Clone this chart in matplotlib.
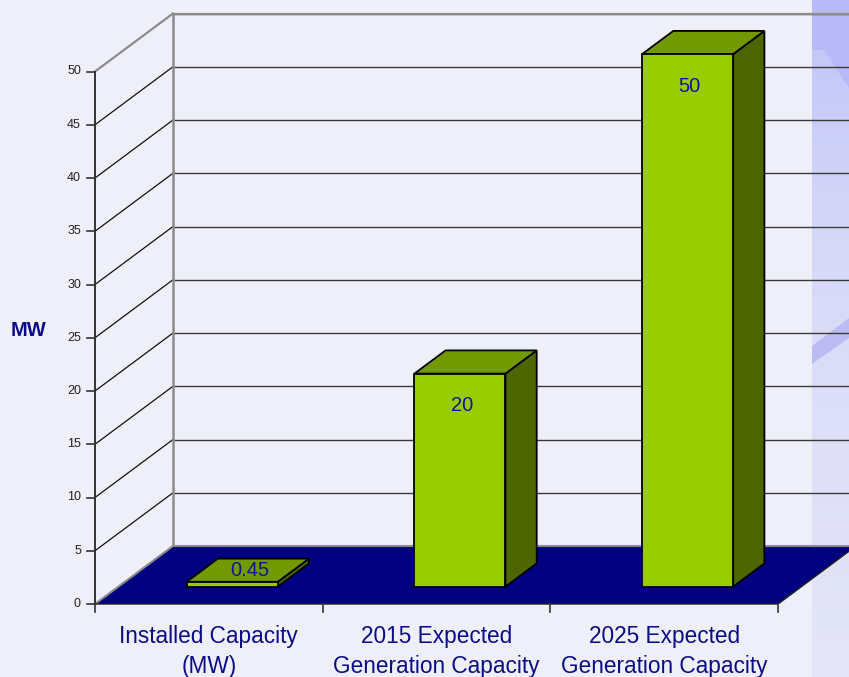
import numpy as np
import matplotlib
matplotlib.use("Agg")
import matplotlib.pyplot as plt
from matplotlib.patches import Polygon
from matplotlib.colors import LinearSegmentedColormap

plt.rcParams['font.family'] = ['Liberation Sans', 'DejaVu Sans']

# ---- data ----
categories = ["Installed Capacity\n(MW)",
              "2015 Expected\nGeneration Capacity",
              "2025 Expected\nGeneration Capacity"]
values = [0.45, 20, 50]
value_labels = ["0.45", "20", "50"]
y_ticks = [0, 5, 10, 15, 20, 25, 30, 35, 40, 45, 50]
y_label = "MW"

# ---- styling ----
BG = '#EFEFFA'
FLOOR = '#000080'
FRONT = '#99CC00'
TOP = '#739900'
SIDE = '#4D6600'
NAVY = '#0C0C88'

# oblique projection: depth offset (in category units, value units) for full depth
PX_PER_CAT = 227.7
PX_PER_VAL = 10.65
ORIGIN_PX = (95, 604)
DX = 78 / PX_PER_CAT
DY = 58 / PX_PER_VAL
YMAX = 50
BAR_W = 0.4
D0, D1 = 0.3, 0.7


def proj(x, v, d):
    return (x + d * DX, v + d * DY)


def px(xp, yp):
    """Figure pixel position -> data coordinates of the plotting axes."""
    return ((xp - ORIGIN_PX[0]) / PX_PER_CAT, (ORIGIN_PX[1] - yp) / PX_PER_VAL)


fig = plt.figure(figsize=(8.49, 6.77), dpi=100)
fig.patch.set_facecolor(BG)
ax = fig.add_axes([0, 0, 1, 1])
ax.set_facecolor(BG)
ax.axis('off')

xlim = (px(0, 0)[0], px(849, 0)[0])
ylim = (px(0, 677)[1], px(0, 0)[1])

# slide background strip on the right
strip_x0 = px(812, 0)[0]
strip_cmap = LinearSegmentedColormap.from_list(
    'strip', [(0.0, '#C2C4F8'), (0.15, '#C9CCF8'), (0.35, '#D6D8F8'),
              (0.6, '#DDDEF8'), (1.0, '#E4E6F8')])
grad = np.linspace(0, 1, 256).reshape(-1, 1)
ax.imshow(grad, cmap=strip_cmap, aspect='auto', origin='upper',
          extent=(strip_x0, xlim[1], ylim[0], ylim[1]), zorder=1)
# darker sheen at the top and a diagonal streak
ax.add_patch(Polygon([px(812, 0), px(849, 0), px(849, 88), px(824, 50), px(812, 50)],
                     closed=True, facecolor='#B9B9F7', edgecolor='none', zorder=1.5))
ax.add_patch(Polygon([px(812, 346), px(849, 318), px(849, 338), px(812, 364)],
                     closed=True, facecolor='#BCBCF4', edgecolor='none', zorder=1.5))

n = len(categories)
x_end = n

# back wall gridlines
for t in y_ticks[1:]:
    x0, y0 = proj(0, t, 1)
    x1, y1 = proj(x_end, t, 1)
    ax.plot([x0, x1], [y0, y1], color='#3A3A3A', lw=1.0, zorder=2)
# side wall gridlines
for t in y_ticks[1:-1]:
    p0 = proj(0, t, 0)
    p1 = proj(0, t, 1)
    ax.plot([p0[0], p1[0]], [p0[1], p1[1]], color='#111111', lw=0.9, zorder=2)

# wall edges
ax.plot(*zip(proj(0, 0, 1), proj(0, YMAX, 1)), color='#8C8C8C', lw=1.8, zorder=2.5)
ax.plot(*zip(proj(0, YMAX, 1), proj(x_end, YMAX, 1)), color='#8C8C8C', lw=1.6, zorder=2.5)
ax.plot(*zip(proj(0, YMAX, 0), proj(0, YMAX, 1)), color='#8C8C8C', lw=1.6, zorder=2.5)

# floor
floor = [proj(0, 0, 0), proj(x_end, 0, 0), proj(x_end, 0, 1), proj(0, 0, 1)]
ax.add_patch(Polygon(floor, closed=True, facecolor=FLOOR, edgecolor='none', zorder=3))
ax.plot(*zip(proj(0, 0, 0), proj(0, 0, 1), proj(x_end, 0, 1)),
        color='#8C8C8C', lw=1.5, zorder=3.1)
ax.plot(*zip(proj(0, 0, 0), proj(x_end, 0, 0), proj(x_end, 0, 1)),
        color='#222222', lw=1.0, zorder=3.1)

# value axis
ax.plot(*zip(proj(0, 0, 0), proj(0, YMAX, 0)), color='#333333', lw=1.4, zorder=4)
tick_len = 8 / PX_PER_CAT
for t in y_ticks:
    ax.plot([-tick_len, 0], [t, t], color='#333333', lw=1.2, zorder=4)
    ax.text(-14 / PX_PER_CAT, t, str(t), ha='right', va='center',
            fontsize=9, color='#222222', zorder=4)

# category ticks
cat_tick = 8 / PX_PER_VAL
for i in range(n + 1):
    ax.plot([i, i], [0, -cat_tick], color='#333333', lw=1.2, zorder=4)

# bars
for i, v in enumerate(values):
    c = i + 0.5
    xl, xr = c - BAR_W / 2, c + BAR_W / 2
    front = [proj(xl, 0, D0), proj(xr, 0, D0), proj(xr, v, D0), proj(xl, v, D0)]
    top = [proj(xl, v, D0), proj(xr, v, D0), proj(xr, v, D1), proj(xl, v, D1)]
    side = [proj(xr, 0, D0), proj(xr, v, D0), proj(xr, v, D1), proj(xr, 0, D1)]
    for poly, col in ((side, SIDE), (top, TOP), (front, FRONT)):
        ax.add_patch(Polygon(poly, closed=True, facecolor=col, edgecolor='black',
                             lw=1.3, joinstyle='miter', zorder=5))
    if v >= 5:
        lx, ly = proj(c, v - 3, D0)
    else:
        lx, ly = proj(c, v, (D0 + D1) / 2)
    ax.text(lx + 2 / PX_PER_CAT, ly, value_labels[i], ha='center', va='center',
            fontsize=14.5, color='#14148F', zorder=6)

# category labels
for i, name in enumerate(categories):
    ax.text(i + 0.5, -21 / PX_PER_VAL, name, ha='center', va='top',
            fontsize=16.3, color=NAVY, linespacing=1.4, zorder=6)

# axis title
ax.text(-66 / PX_PER_CAT, (604 - 331) / PX_PER_VAL, y_label, ha='center',
        va='center', fontsize=14.5, fontweight='bold', color=NAVY, zorder=6)

ax.set_xlim(*xlim)
ax.set_ylim(*ylim)

fig.savefig('out.png', dpi=100, facecolor=BG)
